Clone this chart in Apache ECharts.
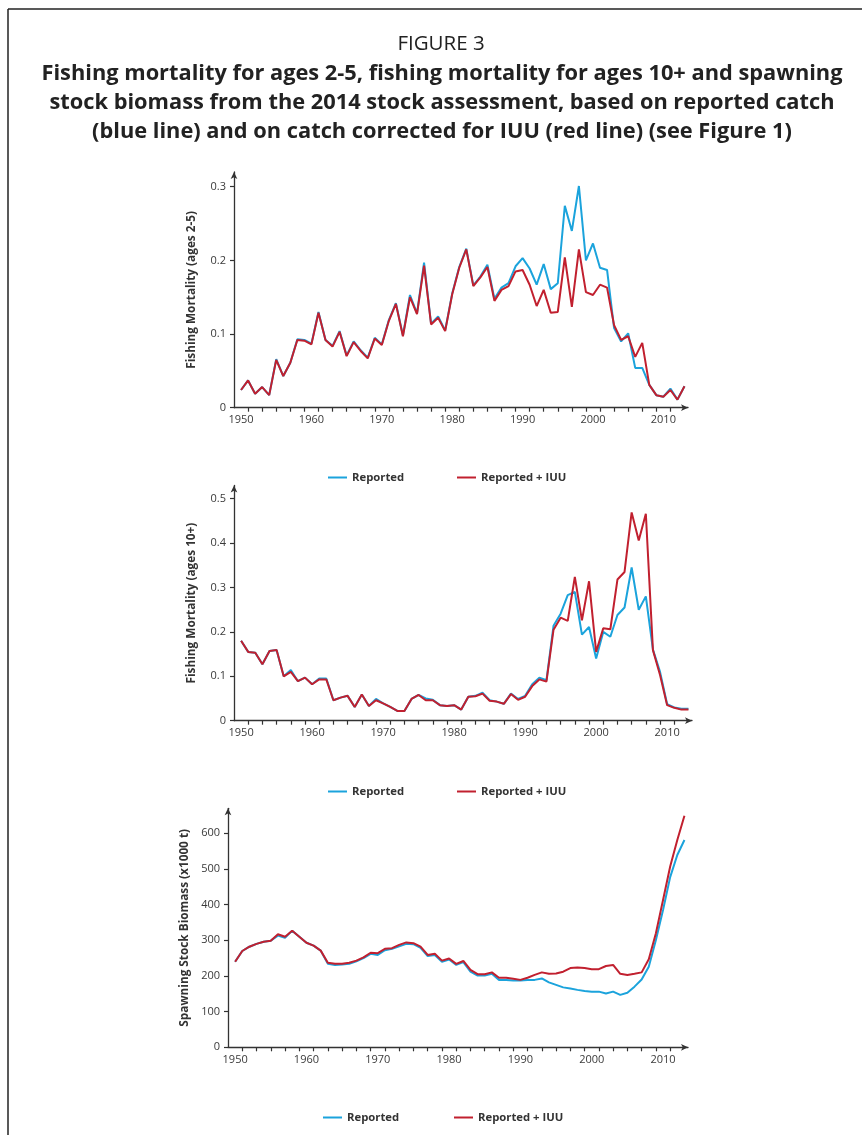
<!DOCTYPE html>
<html>
<head>
<meta charset="utf-8">
<script src="https://cdn.jsdelivr.net/npm/echarts@6/dist/echarts.min.js"></script>
<style>
html,body{margin:0;padding:0;background:#fff;}
#chart{width:862px;height:1135px;}
</style>
</head>
<body>
<div id="chart"></div>
<script>
// ---------- DATA ----------
const years = [1950,1951,1952,1953,1954,1955,1956,1957,1958,1959,
  1960,1961,1962,1963,1964,1965,1966,1967,1968,1969,
  1970,1971,1972,1973,1974,1975,1976,1977,1978,1979,
  1980,1981,1982,1983,1984,1985,1986,1987,1988,1989,
  1990,1991,1992,1993,1994,1995,1996,1997,1998,1999,
  2000,2001,2002,2003,2004,2005,2006,2007,2008,2009,
  2010,2011,2012,2013];

const xLabelYears = [1950,1960,1970,1980,1990,2000,2010];
const xTickYears = [1951,1953,1955,1957,1959,1961,1963,1965,1967,1969,1971,1973,1975,1977,1979,
  1981,1983,1985,1987,1989,1991,1993,1995,1997,1999,2001,2003,2005,2007,2009,2011];

// Fishing mortality ages 2-5
const f25Reported = [0.024,0.037,0.019,0.028,0.017,0.066,0.043,0.061,0.093,0.092,
  0.087,0.130,0.092,0.084,0.104,0.071,0.090,0.078,0.068,0.095,
  0.086,0.119,0.142,0.098,0.153,0.128,0.197,0.114,0.124,0.105,
  0.155,0.191,0.216,0.166,0.178,0.194,0.148,0.163,0.169,0.192,
  0.203,0.189,0.167,0.195,0.161,0.169,0.274,0.240,0.301,0.200,
  0.223,0.190,0.187,0.108,0.090,0.101,0.054,0.054,0.031,0.017,
  0.015,0.026,0.011,0.029];
const f25IUU = [0.024,0.037,0.019,0.028,0.017,0.065,0.043,0.061,0.092,0.091,
  0.086,0.129,0.092,0.083,0.103,0.070,0.089,0.077,0.067,0.094,
  0.085,0.118,0.141,0.097,0.150,0.127,0.193,0.113,0.122,0.104,
  0.154,0.190,0.215,0.165,0.177,0.191,0.145,0.160,0.165,0.185,
  0.187,0.167,0.138,0.160,0.129,0.130,0.204,0.137,0.215,0.157,
  0.153,0.167,0.163,0.112,0.092,0.097,0.069,0.088,0.031,0.017,
  0.015,0.024,0.011,0.029];
const f25Ticks = [0,0.1,0.2,0.3];

// Fishing mortality ages 10+
const f10Reported = [0.180,0.155,0.153,0.127,0.157,0.159,0.100,0.114,0.089,0.097,
  0.082,0.095,0.095,0.046,0.052,0.056,0.031,0.059,0.033,0.049,
  0.039,0.031,0.022,0.022,0.049,0.058,0.050,0.047,0.035,0.033,
  0.035,0.025,0.054,0.056,0.063,0.046,0.043,0.038,0.061,0.049,
  0.056,0.082,0.097,0.091,0.214,0.241,0.283,0.290,0.194,0.211,
  0.140,0.200,0.189,0.238,0.255,0.345,0.250,0.280,0.160,0.110,
  0.037,0.030,0.027,0.027];
const f10IUU = [0.180,0.155,0.153,0.127,0.157,0.159,0.100,0.110,0.089,0.097,
  0.082,0.093,0.093,0.046,0.052,0.056,0.031,0.059,0.033,0.046,
  0.039,0.031,0.022,0.022,0.049,0.058,0.046,0.046,0.035,0.033,
  0.035,0.025,0.054,0.055,0.061,0.045,0.043,0.038,0.060,0.047,
  0.054,0.078,0.093,0.088,0.205,0.232,0.225,0.324,0.226,0.314,
  0.155,0.208,0.206,0.318,0.335,0.469,0.406,0.466,0.159,0.103,
  0.035,0.029,0.025,0.025];
const f10Ticks = [0,0.1,0.2,0.3,0.4,0.5];

// Spawning stock biomass (x1000 t)
const ssbReported = [240,270,282,290,296,299,313,307,327,310,
  293,285,271,234,231,232,234,241,250,262,
  259,272,276,283,290,289,279,256,259,240,
  246,231,239,212,201,201,206,189,189,187,
  187,189,189,193,182,175,168,165,161,158,
  156,156,151,156,147,153,170,190,226,301,
  385,477,539,581];
const ssbIUU = [240,270,282,290,296,299,317,310,327,310,
  293,285,271,237,234,234,237,243,252,265,
  264,276,278,287,294,292,282,259,262,243,
  249,234,242,217,205,205,210,195,195,192,
  189,195,203,210,206,207,212,222,224,222,
  219,219,228,231,206,203,206,210,247,320,
  413,507,581,649];
const ssbTicks = [0,100,200,300,400,500,600];

const seriesNames = ['Reported', 'Reported + IUU'];
const yNames = ['Fishing Mortality (ages 2-5)', 'Fishing Mortality (ages 10+)', 'Spawning Stock Biomass (x1000 t)'];
const titleLine1 = 'FIGURE 3';
const titleLines = [
  'Fishing mortality for ages 2-5, fishing mortality for ages 10+ and spawning',
  'stock biomass from the 2014 stock assessment, based on reported catch',
  '(blue line) and on catch corrected for IUU (red line) (see Figure 1)'
];

// ---------- STYLE ----------
const BLUE = '#1ba3dc';
const RED = '#c1202f';
const AX = '#333333';
const FONT = '"Open Sans", "Noto Sans", sans-serif';

const grids = [
  {left: 234, top: 172, width: 454, height: 235.7},
  {left: 234, top: 485.4, width: 458, height: 235.3},
  {left: 228, top: 808.3, width: 460, height: 239}
];
const yMax = [0.32, 0.53, 670];
const yTickSets = [f25Ticks, f10Ticks, ssbTicks];
const dataSets = [[f25Reported, f25IUU], [f10Reported, f10IUU], [ssbReported, ssbIUU]];

function pairs(arr){ return years.map((y,i)=>[y, arr[i]]); }

const xAxes = grids.map((g,i)=>({
  type: 'value', gridIndex: i, min: 1949, max: 2013.5,
  axisLine: {show: true, lineStyle: {color: AX, width: 1.3}, symbol: ['none','arrow'], symbolSize: [5,7]},
  axisTick: {show: true, length: 4, inside: false, customValues: xTickYears, lineStyle: {color: AX, width: 1.2}},
  axisLabel: {customValues: xLabelYears, fontSize: 11, color: '#3a3a3a', fontFamily: FONT, margin: 7,
              formatter: v => String(v)},
  splitLine: {show: false}
}));
const yAxes = grids.map((g,i)=>({
  type: 'value', gridIndex: i, min: 0, max: yMax[i],
  name: yNames[i], nameLocation: 'middle', nameGap: 36, nameRotate: 90,
  nameTextStyle: {fontWeight: 'bold', fontSize: 11.8, color: '#333', fontFamily: FONT},
  axisLine: {show: true, lineStyle: {color: AX, width: 1.3}, symbol: ['none','arrow'], symbolSize: [5,7]},
  axisTick: {show: true, length: 4, inside: false, customValues: yTickSets[i], lineStyle: {color: AX, width: 1.2}},
  axisLabel: {customValues: yTickSets[i], fontSize: 11, color: '#3a3a3a', fontFamily: FONT, margin: 8},
  splitLine: {show: false}
}));

const series = [];
dataSets.forEach((ds,i)=>{
  [BLUE, RED].forEach((c,j)=>{
    series.push({
      type: 'line', name: seriesNames[j], xAxisIndex: i, yAxisIndex: i,
      data: pairs(ds[j]), symbol: 'none', showSymbol: false,
      lineStyle: {color: c, width: 2}, itemStyle: {color: c},
      z: 2 + j, animation: false
    });
  });
});

const legendPos = [
  {top: 472, lb: 328, lr: 457},
  {top: 786, lb: 328, lr: 457},
  {top: 1112, lb: 323, lr: 454}
];
const legends = [];
legendPos.forEach(p=>{
  [[p.lb, seriesNames[0]], [p.lr, seriesNames[1]]].forEach(([l,n])=>{
    legends.push({
      left: l, top: p.top, padding: 0, data: [n], icon: 'rect',
      itemWidth: 19, itemHeight: 2, itemGap: 5, selectedMode: false,
      textStyle: {fontWeight: 'bold', fontSize: 11.3, color: '#333', fontFamily: FONT, padding: [0,0,0,0]}
    });
  });
});

const graphic = [
  {type: 'line', shape: {x1: 8, y1: 9, x2: 862, y2: 9}, style: {stroke: '#222', lineWidth: 1.5}},
  {type: 'line', shape: {x1: 8, y1: 9, x2: 8, y2: 1135}, style: {stroke: '#222', lineWidth: 1.5}},
  {type: 'text', x: 441, y: 44, style: {text: titleLine1, fontSize: 20.5, fontFamily: FONT, fill: '#222', align: 'center', verticalAlign: 'middle'}}
];
titleLines.forEach((t,k)=>{
  graphic.push({type: 'text', x: 442, y: 74 + k*29, style: {text: t, fontSize: 21.8, fontWeight: 'bold', fontFamily: FONT, fill: '#222', align: 'center', verticalAlign: 'middle'}});
});

const chart = echarts.init(document.getElementById('chart'), null, {renderer: 'canvas'});
chart.setOption({
  animation: false,
  backgroundColor: '#fff',
  grid: grids.map(g=>Object.assign({containLabel: false, outerBoundsMode: 'none'}, g)),
  xAxis: xAxes,
  yAxis: yAxes,
  legend: legends,
  series: series,
  graphic: graphic
});
</script>
</body>
</html>
